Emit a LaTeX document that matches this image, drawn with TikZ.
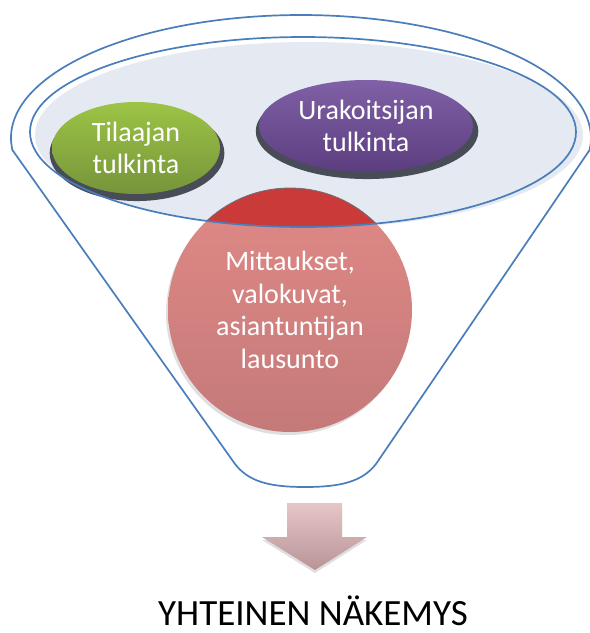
\documentclass[tikz,border=0pt]{standalone}
\usepackage{fontspec}
\setmainfont{Carlito}
\usetikzlibrary{shapes.geometric,shadows}

\definecolor{funnelblue}{RGB}{74,126,187}
\definecolor{bowlfill}{RGB}{228,233,242}
\definecolor{rimgray}{RGB}{72,76,86}
\definecolor{greentop}{RGB}{157,196,70}
\definecolor{greenbot}{RGB}{118,148,58}
\definecolor{purpletop}{RGB}{128,96,166}
\definecolor{purplebot}{RGB}{92,62,128}
\definecolor{redstrong}{RGB}{201,58,56}
\definecolor{pinktop}{RGB}{224,137,134}
\definecolor{pinkbot}{RGB}{196,122,121}
\definecolor{arrowtop}{RGB}{231,198,200}
\definecolor{arrowbot}{RGB}{184,148,151}

\tikzset{
  funnelline/.style={draw=funnelblue, line width=1.7},
  bubbletext/.style={text=white, align=center,
    font=\fontsize{28}{32.5}\selectfont},
  bubble/.style={ellipse, inner sep=0pt, bubbletext,
    drop shadow={shadow xshift=1pt, shadow yshift=-5pt, shadow scale=1.04,
                 fill=rimgray, opacity=1}},
}

\begin{document}
\begin{tikzpicture}[x=1pt,y=-1pt]
\useasboundingbox (0,0) rectangle (590,633);

% funnel body: top rim, straight sides, rounded spout
\draw[funnelline, line join=round]
  (12.4,150) arc[start angle=174.4, end angle=365.6, x radius=290, y radius=123]
  -- (376,464) .. controls (362,482) and (340,487) .. (305,487)
  .. controls (270,487) and (249,482) .. (235,464) -- cycle;

% bowl surface
\fill[bowlfill] (309,135) ellipse[x radius=274, y radius=93];

% the two interpretations
\node[bubble, minimum width=168pt, minimum height=92pt,
      top color=greentop, bottom color=greenbot] (tilaaja) at (136,148)
      {Tilaajan\\tulkinta};
\node[bubble, minimum width=214pt, minimum height=92pt,
      top color=purpletop, bottom color=purplebot] (urakoitsija) at (366,126)
      {Urakoitsijan\\tulkinta};

% evidence ball dropping through the funnel
\node[circle, inner sep=0pt, minimum size=244pt, bubbletext,
      top color=pinktop, bottom color=pinkbot,
      drop shadow={shadow xshift=-2pt, shadow yshift=-3pt, opacity=0.25}]
      (mittaukset) at (290,310) {Mittaukset,\\valokuvat,\\asiantuntijan\\lausunto};
\begin{scope}
  \clip (303,132) ellipse[x radius=273, y radius=95];
  \fill[redstrong, draw=rimgray!80, line width=0.8]
    (mittaukset.center) circle[radius=122];
\end{scope}

% rim of the bowl
\draw[funnelline] (303,132) ellipse[x radius=273, y radius=95];

% result arrow and outcome
\path[top color=arrowtop, bottom color=arrowbot,
      drop shadow={shadow xshift=0pt, shadow yshift=-3pt, opacity=0.25}]
  (287,503) -- (342,503) -- (342,537) -- (367,537) -- (315,570)
  -- (262,537) -- (287,537) -- cycle;
\node[anchor=base, inner sep=0pt, font=\fontsize{37}{42}\selectfont]
  (nakemys) at (313,625) {YHTEINEN NÄKEMYS};
\end{tikzpicture}
\end{document}
